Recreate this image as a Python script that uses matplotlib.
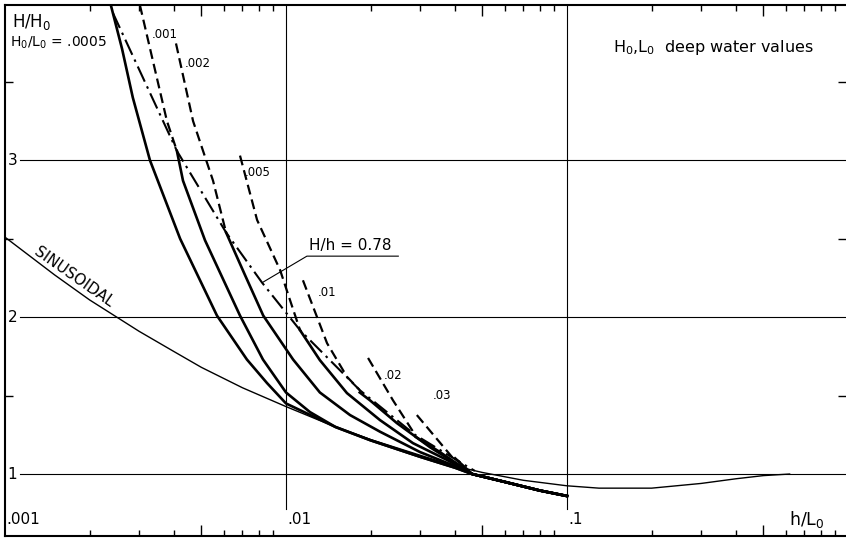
import matplotlib
matplotlib.use('Agg')
import matplotlib.pyplot as plt

plt.rcParams['font.family'] = ['DejaVu Sans']
plt.rcParams['mathtext.default'] = 'regular'

# sinusoidal (linear) shoaling curve
sin_x = [0.001, 0.0015, 0.002, 0.0025, 0.003, 0.004, 0.005, 0.007, 0.01, 0.015, 0.02,
         0.03, 0.04, 0.05, 0.07, 0.1, 0.13, 0.2, 0.3, 0.4, 0.5, 0.62]
sin_y = [2.51, 2.27, 2.11, 2.00, 1.91, 1.78, 1.68, 1.55, 1.43, 1.30, 1.22,
         1.12, 1.05, 1.01, 0.96, 0.925, 0.91, 0.91, 0.94, 0.97, 0.99, 1.0]

# common lower branch and tail of the nonlinear curves
env_x = [0.015, 0.02, 0.03, 0.04]
env_y = [1.30, 1.215, 1.11, 1.04]
tail_x = [0.046, 0.06, 0.08, 0.1]
tail_y = [1.0, 0.95, 0.895, 0.86]

# nonlinear curves below breaking (solid), one per H0/L0
s0005_x = [0.00238, 0.00261, 0.00285, 0.00328, 0.0042, 0.00568, 0.00726, 0.00856, 0.0100]
s0005_y = [3.99, 3.71, 3.40, 3.00, 2.50, 2.01, 1.73, 1.58, 1.45]
s001_x = [0.00409, 0.0043, 0.00515, 0.00686, 0.00828, 0.0100, 0.01217]
s001_y = [3.06, 2.87, 2.49, 2.01, 1.73, 1.52, 1.395]
s002_x = [0.00612, 0.00714, 0.0083, 0.0106, 0.0132, 0.0169, 0.0216, 0.030, 0.040]
s002_y = [2.54, 2.27, 2.01, 1.73, 1.52, 1.376, 1.27, 1.14, 1.05]
s005_x = [0.01122, 0.0132, 0.01648, 0.0216, 0.0283, 0.0374]
s005_y = [1.917, 1.726, 1.516, 1.344, 1.197, 1.09]
s01_x = [0.0183, 0.0199, 0.0248, 0.0326, 0.044]
s01_y = [1.52, 1.47, 1.325, 1.17, 1.025]
s02_x = [0.0290, 0.0353]
s02_y = [1.236, 1.14]
s03_x = [0.040]
s03_y = [1.10]

# continuation beyond breaking (dashed)
d001_x = [0.00302, 0.00377, 0.00409]
d001_y = [3.99, 3.25, 3.06]
d002_x = [0.00406, 0.00467, 0.0055, 0.00612]
d002_y = [3.745, 3.25, 2.87, 2.54]
d005_x = [0.00686, 0.00789, 0.00953, 0.01033, 0.01122]
d005_y = [3.03, 2.62, 2.30, 2.11, 1.917]
d01_x = [0.01149, 0.0140, 0.01648, 0.0183]
d01_y = [2.235, 1.834, 1.62, 1.535]
d02_x = [0.01959, 0.02403, 0.0288]
d02_y = [1.74, 1.47, 1.25]
d03_x = [0.02922, 0.0390, 0.0416]
d03_y = [1.376, 1.108, 1.076]

# breaking line H/h = 0.78 (dash-dot)
brk_x = [0.00242, 0.00409, 0.00612, 0.00822, 0.01122, 0.0183, 0.0288, 0.0416, 0.047]
brk_y = [3.94, 3.06, 2.54, 2.22, 1.917, 1.535, 1.25, 1.076, 1.02]

fig = plt.figure(figsize=(8.46, 5.40), dpi=100)
ax = fig.add_axes([5 / 846, 4 / 540, 841 / 846, 531 / 540])
ax.set_xscale('log')
ax.set_xlim(0.001, 0.984)
ax.set_ylim(0.605, 3.99)

# grid
for yv in [1, 2, 3]:
    ax.axhline(yv, xmin=0.018, color='black', lw=0.8)
for xv in [0.01, 0.1]:
    ax.axvline(xv, ymin=0.05, color='black', lw=0.8)

ax.plot(sin_x, sin_y, color='black', lw=1.0)

for sx, sy in [(s0005_x, s0005_y), (s001_x, s001_y)]:
    ax.plot(sx + env_x + tail_x, sy + env_y + tail_y, color='black', lw=1.9,
            solid_joinstyle='round')
for sx, sy in [(s002_x, s002_y), (s005_x, s005_y), (s01_x, s01_y),
               (s02_x, s02_y), (s03_x, s03_y)]:
    ax.plot(sx + tail_x, sy + tail_y, color='black', lw=1.9, solid_joinstyle='round')

for dx, dy in [(d001_x, d001_y), (d002_x, d002_y), (d005_x, d005_y),
               (d01_x, d01_y), (d02_x, d02_y), (d03_x, d03_y)]:
    ax.plot(dx, dy, color='black', lw=1.6, dashes=(4.5, 2.3))

ax.plot(brk_x, brk_y, color='black', lw=1.5, dashes=(8, 2.5, 1.2, 2.5))

# labels
ax.text(0.00104, 3.75, 'H$_0$/L$_0$ = .0005', fontsize=10, va='center', ha='left')
for lx, ly, s in [(0.00333, 3.80, '.001'), (0.00437, 3.62, '.002'),
                  (0.00714, 2.92, '.005'), (0.013, 2.16, '.01'),
                  (0.0222, 1.63, '.02'), (0.0333, 1.50, '.03')]:
    ax.text(lx, ly, s, fontsize=8.5, va='center', ha='left')

ax.text(0.00176, 2.255, 'SINUSOIDAL', fontsize=11, rotation=-35,
        rotation_mode='anchor', ha='center', va='center')

ax.text(0.0121, 2.41, 'H/h = 0.78', fontsize=11, ha='left', va='bottom')
ax.plot([0.00828, 0.01187, 0.0251], [2.223, 2.389, 2.389], color='black', lw=0.8)

ax.text(0.00106, 3.88, 'H/H$_0$', fontsize=12, ha='left', va='center')
ax.text(0.615, 0.71, 'h/L$_0$', fontsize=12.5, ha='left', va='center')
ax.text(0.146, 3.72, 'H$_0$,L$_0$  deep water values', fontsize=11.5, ha='left', va='center')

for yv, s in [(3, '3'), (2, '2'), (1, '1')]:
    ax.text(0.00102, yv, s, fontsize=11, ha='left', va='center')
for xv, s in [(0.00101, '.001'), (0.0101, '.01'), (0.101, '.1')]:
    ax.text(xv, 0.71, s, fontsize=11, ha='left', va='center')

# ticks
minor = [m * 10.0 ** e for e in (-3, -2, -1) for m in (2, 3, 4, 6, 7, 8, 9)]
ax.set_xticks([0.005, 0.05, 0.5])
ax.set_xticks(minor, minor=True)
ax.set_xticklabels([])
ax.set_xticklabels([], minor=True)
ax.set_yticks([1.5, 2.5, 3.5])
ax.set_yticklabels([])
ax.yaxis.set_minor_locator(matplotlib.ticker.NullLocator())
ax.tick_params(axis='x', which='major', direction='in', length=8, width=1, top=True, bottom=True)
ax.tick_params(axis='x', which='minor', direction='in', length=4, width=1, top=True, bottom=True)
ax.tick_params(axis='y', which='major', direction='in', length=6, width=1, left=True, right=True)
ax.spines['right'].set_visible(False)
for sp in ['left', 'bottom', 'top']:
    ax.spines[sp].set_linewidth(1.5)

fig.savefig('out.png', dpi=100)
